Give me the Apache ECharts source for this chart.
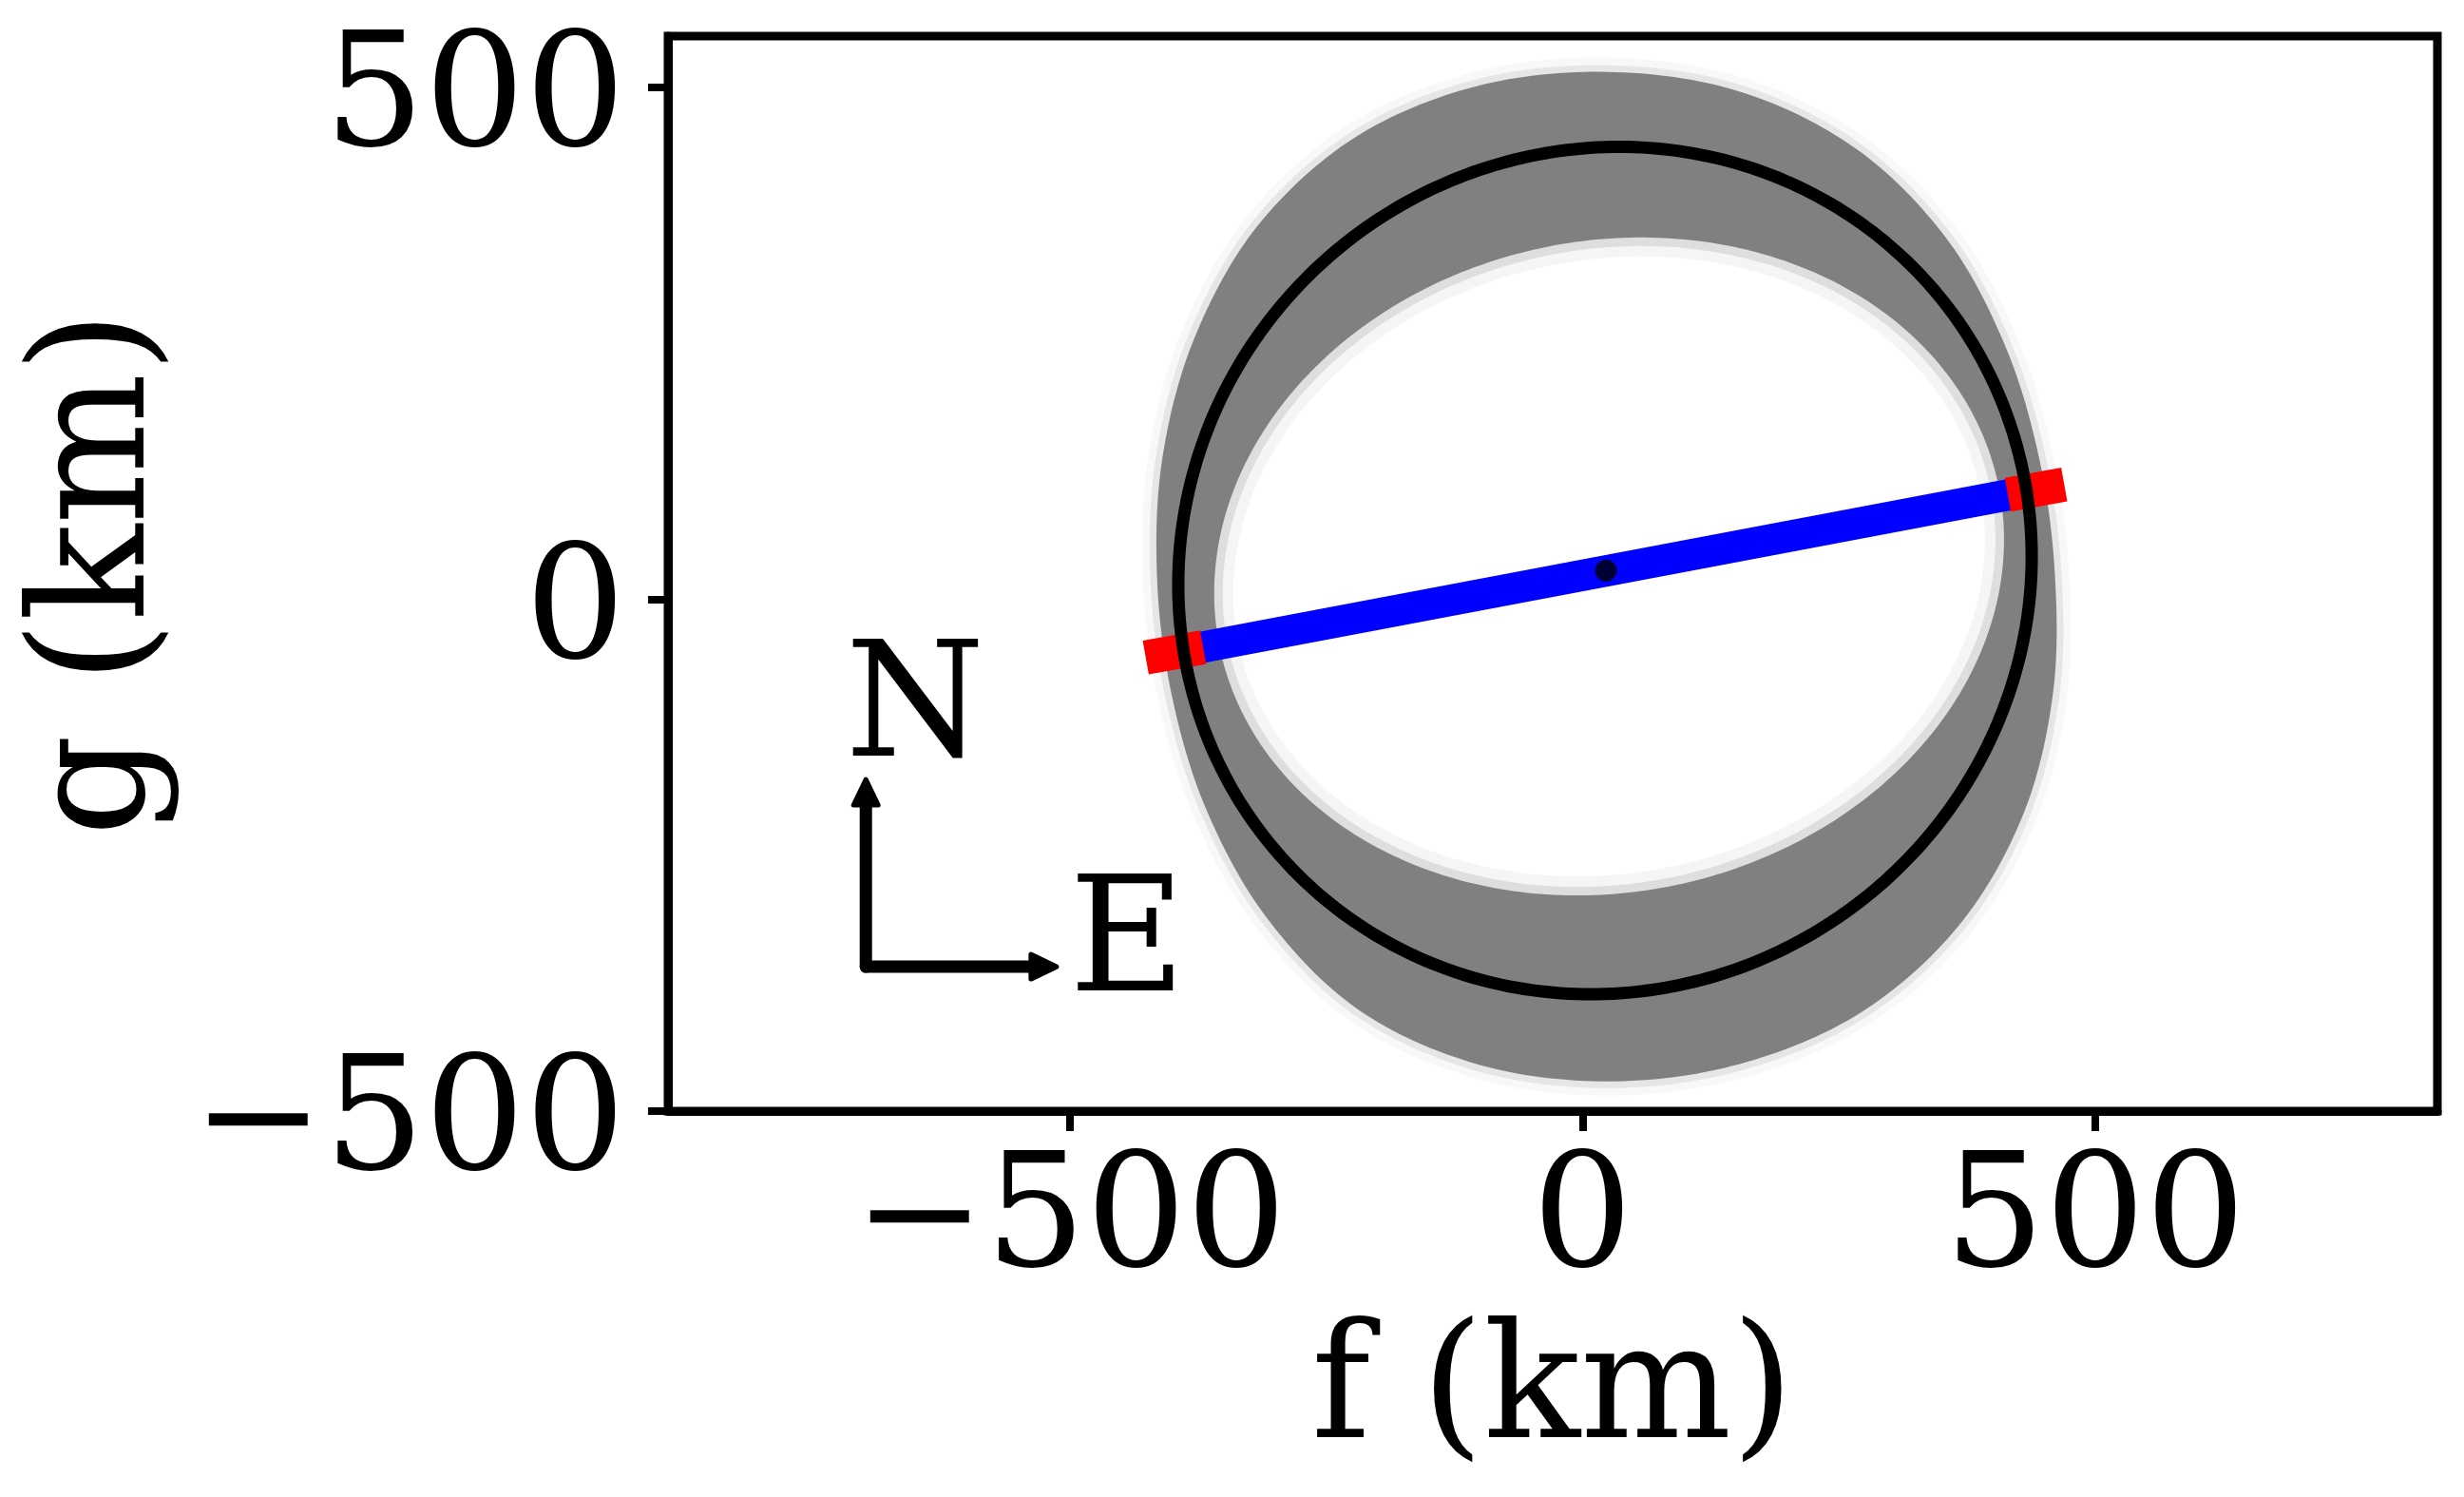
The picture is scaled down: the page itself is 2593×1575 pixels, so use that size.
<!DOCTYPE html>
<html><head><meta charset="utf-8">
<script src="https://cdn.jsdelivr.net/npm/echarts@6/dist/echarts.min.js"></script>
<style>html,body{margin:0;padding:0;background:#fff}#c{width:2593px;height:1575px}</style>
</head><body><div id="c"></div>
<script>
// ---- data (km) ----
const xTicks = [-500, 0, 500];
const yTicks = [-500, 0, 500];
// outer edge of the grey band of sampled fits, read as radius (km) at polar angle (deg) about a centre
const outerCenter = [25, 22];
const outerAngles = [0, 15, 30, 45, 60, 75, 90, 105, 120, 135, 150, 165, 180, 195, 210, 225, 240, 255, 270, 285, 300, 315, 330, 345];
const outerRadii  = [436, 436, 448, 467, 483, 491, 493, 496, 495, 484, 466, 450, 440, 441, 453, 471, 488, 493, 493, 493, 492, 483, 467, 449];
// inner edge of the grey band (an ellipse): centre, semi-axes, angle (deg)
const innerCenter = [26, 32];
const innerSemiAxes = [388, 318];
const innerAngleDeg = 12;
// best-fit ellipse: centre, semi-axes, position angle (deg)
const fitCenter = [22, 28];
const fitSemiAxes = [422, 408];
const fitAngleDeg = 40;
// observed chord and its end uncertainties
const chord = [[-398, -52], [442, 107]];
const chordErrStart = [[-426, -57], [-370, -47]];
const chordErrEnd = [[415, 102], [470, 112]];
const centrePoint = [[23, 28]];
// compass
const compassOrigin = [-699, -359];
const compassNorthTip = [-699, -176];
const compassEastTip = [-513, -359];
const compassLabelText = ['N', 'E'];
const compassLabelPos = [[-651, -112], [-444, -342]];

const FONT = '"DejaVu Serif", "Liberation Serif", serif';
const fmt = v => String(v).replace('-', '\u2212');

function ellipsePoints(api, c, ax, angDeg){
  const th = angDeg * Math.PI / 180, ct = Math.cos(th), st = Math.sin(th);
  const pts = [];
  for (let i = 0; i < 360; i++) {
    const t = i * Math.PI / 180;
    const u = ax[0] * Math.cos(t), v = ax[1] * Math.sin(t);
    pts.push(api.coord([c[0] + u * ct - v * st, c[1] + u * st + v * ct]));
  }
  return pts;
}
// closed outline through the read edge points, drawn as a smooth (Catmull-Rom) curve in pixel space
function smoothClosed(px, steps){
  const n = px.length, out = [];
  for (let i = 0; i < n; i++) {
    const p0 = px[(i - 1 + n) % n], p1 = px[i], p2 = px[(i + 1) % n], p3 = px[(i + 2) % n];
    for (let s = 0; s < steps; s++) {
      const t = s / steps, t2 = t * t, t3 = t2 * t;
      out.push([0, 1].map(k => 0.5 * ((2 * p1[k]) + (-p0[k] + p2[k]) * t + (2 * p0[k] - 5 * p1[k] + 4 * p2[k] - p3[k]) * t2 + (-p0[k] + 3 * p1[k] - 3 * p2[k] + p3[k]) * t3)));
    }
  }
  return out;
}
function polarPoints(api, c, angs, radii){
  return angs.map((a, i) => {
    const t = a * Math.PI / 180;
    return api.coord([c[0] + radii[i] * Math.cos(t), c[1] + radii[i] * Math.sin(t)]);
  });
}

const chart = echarts.init(document.getElementById('c'), null, {renderer: 'canvas'});
chart.setOption({
  animation: false,
  backgroundColor: '#fff',
  grid: {left: 703, right: 28, top: 38, bottom: 406, show: true, borderColor: '#000', borderWidth: 9, backgroundColor: 'transparent', containLabel: false, outerBoundsMode: 'none'},
  xAxis: {
    type: 'value', min: -892, max: 834,
    splitLine: {show: false},
    axisLine: {show: true, onZero: false, lineStyle: {color: '#000', width: 9}},
    axisTick: {show: true, length: 21, customValues: xTicks, lineStyle: {color: '#000', width: 8}},
    axisLabel: {customValues: xTicks, formatter: fmt, fontSize: 166, fontFamily: FONT, color: '#000', margin: 37},
    name: 'f (km)', nameLocation: 'middle', nameGap: 215,
    nameTextStyle: {fontSize: 168, fontFamily: FONT, color: '#000'}
  },
  yAxis: {
    type: 'value', min: -500, max: 550,
    splitLine: {show: false},
    axisLine: {show: true, onZero: false, lineStyle: {color: '#000', width: 9}},
    axisTick: {show: true, length: 21, customValues: yTicks, lineStyle: {color: '#000', width: 8}},
    axisLabel: {customValues: yTicks, formatter: fmt, fontSize: 166, fontFamily: FONT, color: '#000', margin: 45, verticalAlign: 'top', lineHeight: 36},
    name: 'g (km)', nameLocation: 'middle', nameGap: 508, nameRotate: 90,
    nameTextStyle: {fontSize: 168, fontFamily: FONT, color: '#000'}
  },
  series: [
    { // grey band of sampled fits
      type: 'custom', z: 2, silent: true, clip: false,
      data: [outerCenter],
      renderItem: function(params, api){
        const o = smoothClosed(polarPoints(api, outerCenter, outerAngles, outerRadii), 16);
        const inn = ellipsePoints(api, innerCenter, innerSemiAxes, innerAngleDeg);
        return {type: 'group', children: [
          {type: 'polygon', shape: {points: o}, style: {fill: 'none', stroke: 'rgba(128,128,128,0.06)', lineWidth: 30}},
          {type: 'polygon', shape: {points: o}, style: {fill: 'none', stroke: 'rgba(128,128,128,0.15)', lineWidth: 14}},
          {type: 'polygon', shape: {points: o}, style: {fill: '#808080', stroke: 'none'}},
          {type: 'polygon', shape: {points: inn}, style: {fill: '#ffffff', stroke: 'none'}},
          {type: 'polygon', shape: {points: inn}, style: {fill: 'none', stroke: 'rgba(128,128,128,0.08)', lineWidth: 40}},
          {type: 'polygon', shape: {points: inn}, style: {fill: 'none', stroke: 'rgba(128,128,128,0.2)', lineWidth: 18}}
        ]};
      }
    },
    { type: 'line', z: 3, silent: true, data: chord, showSymbol: false, symbol: 'none',
      lineStyle: {color: '#0000ff', width: 33, cap: 'butt'} },
    { type: 'line', z: 4, silent: true, data: chordErrStart, showSymbol: false, symbol: 'none',
      lineStyle: {color: '#ff0000', width: 36, cap: 'butt'} },
    { type: 'line', z: 4, silent: true, data: chordErrEnd, showSymbol: false, symbol: 'none',
      lineStyle: {color: '#ff0000', width: 36, cap: 'butt'} },
    { // best-fit ellipse
      type: 'custom', z: 5, silent: true, clip: false,
      data: [fitCenter],
      renderItem: function(params, api){
        return {type: 'polygon', shape: {points: ellipsePoints(api, fitCenter, fitSemiAxes, fitAngleDeg)},
                style: {fill: 'none', stroke: '#000', lineWidth: 13}};
      }
    },
    { type: 'scatter', z: 6, silent: true, data: centrePoint, symbol: 'circle', symbolSize: 23,
      itemStyle: {color: '#000'} },
    { // N / E compass
      type: 'custom', z: 6, silent: true, clip: false,
      data: [compassOrigin],
      renderItem: function(params, api){
        const o = api.coord(compassOrigin), n = api.coord(compassNorthTip), e = api.coord(compassEastTip);
        const hl = 27, hw = 13, lw = 13;
        const children = [
          {type: 'line', shape: {x1: o[0], y1: o[1], x2: n[0], y2: n[1] + hl - 4}, style: {stroke: '#000', lineWidth: lw, lineCap: 'round'}},
          {type: 'line', shape: {x1: o[0], y1: o[1], x2: e[0] - hl + 4, y2: e[1]}, style: {stroke: '#000', lineWidth: lw, lineCap: 'round'}},
          {type: 'polygon', shape: {points: [[n[0], n[1]], [n[0] - hw, n[1] + hl], [n[0] + hw, n[1] + hl]]}, style: {fill: '#000', stroke: '#000', lineWidth: 5, lineJoin: 'round'}},
          {type: 'polygon', shape: {points: [[e[0], e[1]], [e[0] - hl, e[1] - hw], [e[0] - hl, e[1] + hw]]}, style: {fill: '#000', stroke: '#000', lineWidth: 5, lineJoin: 'round'}}
        ];
        compassLabelText.forEach((t, i) => {
          const p = api.coord(compassLabelPos[i]);
          children.push({type: 'text', x: p[0], y: p[1], style: {text: t, fill: '#000', fontSize: 168, fontFamily: FONT, align: 'center', verticalAlign: 'middle'}});
        });
        return {type: 'group', children: children};
      }
    }
  ]
});
</script>
</body></html>
